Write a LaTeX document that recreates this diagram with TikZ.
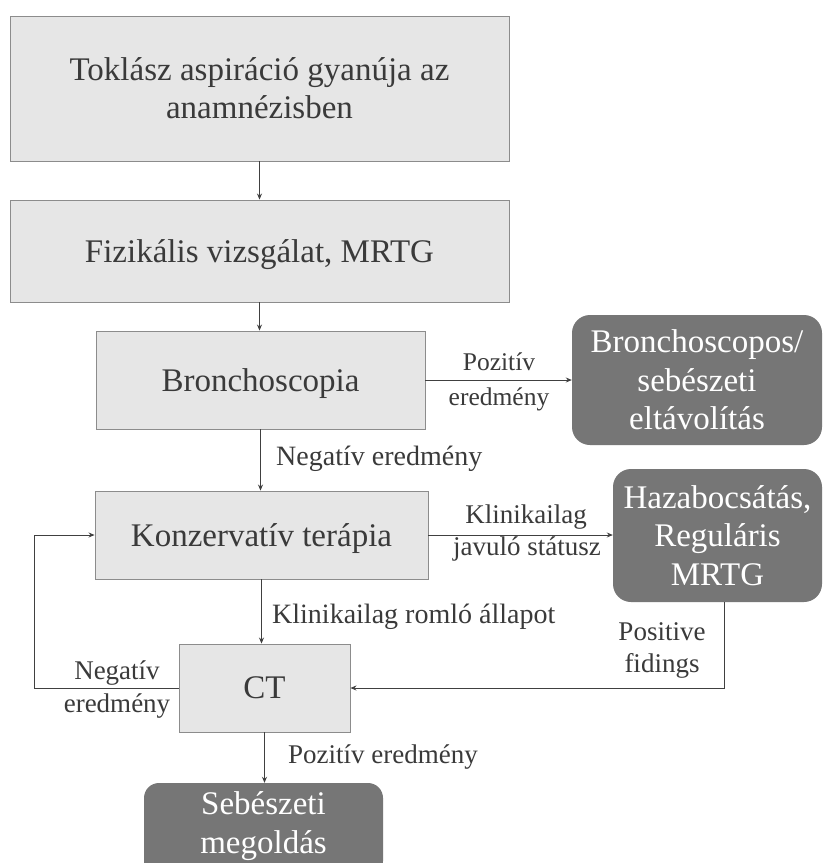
\documentclass[tikz,border=0pt]{standalone}
\usepackage{fontspec}
\setmainfont{Liberation Serif}
\usetikzlibrary{arrows.meta}
\definecolor{boxfill}{HTML}{E6E6E6}
\definecolor{boxline}{HTML}{8C8C8C}
\definecolor{darkfill}{HTML}{767676}
\definecolor{txt}{HTML}{3A3A3A}
\definecolor{connc}{HTML}{404040}
\begin{document}
\begin{tikzpicture}[x=1pt,y=-1pt,
  lightbox/.style={draw=boxline, fill=boxfill, line width=0.9pt, text=txt, align=center, inner sep=0pt, text depth=0pt, font=\fontsize{33}{38}\selectfont},
  darkbox/.style={fill=darkfill, rounded corners=18pt, text=white, align=center, inner sep=0pt, text depth=0pt, font=\fontsize{33}{38.5}\selectfont},
  lbl/.style={text=txt, inner sep=0pt, font=\fontsize{27}{32}\selectfont},
  lblbig/.style={lbl, font=\fontsize{28}{32}\selectfont},
  lblsmall/.style={lbl, font=\fontsize{25.5}{30}\selectfont},
  conn/.style={draw=connc, line width=0.8pt},
  arr/.style={conn, -{Stealth[length=6pt,width=5pt]}}]
\useasboundingbox (0,0) rectangle (823,863);
\clip (0,0) rectangle (823,863);
\fill[white] (0,0) rectangle (823,863);

% boxes
\node[lightbox, minimum width=499pt, minimum height=145pt] (top) at (259.5,88.5) {Toklász aspiráció gyanúja az\\anamnézisben};
\node[lightbox, minimum width=499pt, minimum height=102pt] (fiz) at (259.5,251) {Fizikális vizsgálat, MRTG};
\node[lightbox, minimum width=329pt, minimum height=98pt] (bron) at (260.5,380) {Bronchoscopia};
\node[lightbox, minimum width=333pt, minimum height=88pt] (konz) at (261.5,535) {Konzervatív terápia};
\node[lightbox, minimum width=171pt, minimum height=88pt] (ct) at (264.5,688) {CT};
\node[darkbox, minimum width=250pt, minimum height=130pt] (d1) at (697,380) {Bronchoscopos/\\sebészeti\\eltávolítás};
\node[darkbox, minimum width=209pt, minimum height=133pt] (d2) at (717.5,535.5) {Hazabocsátás,\\Reguláris\\MRTG};
\node[darkbox, minimum width=239pt, minimum height=93pt, rounded corners=15pt, text depth=14pt] (d3) at (263.5,829.5) {Sebészeti\\megoldás};

% connectors
\draw[arr] (top.south) -- (top.south |- fiz.north);
\draw[arr] (fiz.south) -- (fiz.south |- bron.north);
\draw[arr] (bron.south) -- (bron.south |- konz.north);
\draw[arr] (konz.south) -- (konz.south |- ct.north);
\draw[arr] (ct.south) -- (ct.south |- d3.north);
\draw[arr] (bron.east) -- (bron.east -| d1.west);
\draw[arr] (konz.east) -- (konz.east -| d2.west);
\coordinate (fbR) at (724,688);
\coordinate (fbL) at (34,688);
\draw[arr] (d2.south -| fbR) -- (fbR) -- (fbR -| ct.east);
\draw[arr] (ct.west) -- (fbL) |- (konz.west);

% labels
\node[lblsmall, anchor=base] (pos1a) at (499,370) {Pozitív};
\node[lblsmall, anchor=base] (pos1b) at (499,405) {eredmény};
\node[lblbig, anchor=base west] (neg1) at (276,465) {Negatív eredmény};
\node[lbl, anchor=base] (kl1a) at (526,523) {Klinikailag};
\node[lbl, anchor=base] (kl1b) at (527,555) {javuló státusz};
\node[lblbig, anchor=base west] (kl2) at (272,623) {Klinikailag romló állapot};
\node[lbl, anchor=base] (posf1) at (662,640) {Positive};
\node[lbl, anchor=base] (posf2) at (662,672) {fidings};
\node[lbl, anchor=base] (neg2a) at (117,679) {Negatív};
\node[lbl, anchor=base] (neg2b) at (117,712) {eredmény};
\node[lbl, anchor=base west] (pos2) at (288,763) {Pozitív eredmény};
\end{tikzpicture}
\end{document}
